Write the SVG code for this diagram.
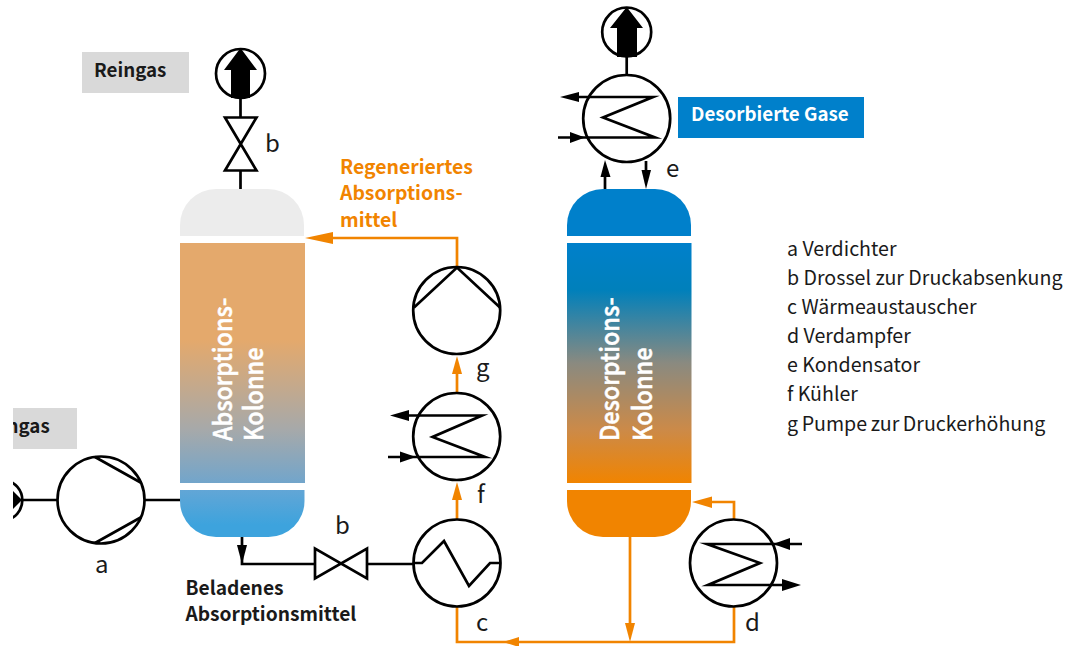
<svg xmlns="http://www.w3.org/2000/svg" width="1067" height="646" viewBox="0 0 1067 646">
<style>
text{font-family:"Noto Sans CJK SC","Noto Sans",sans-serif;fill:#1a1a1a}
.lab{font-size:24px}
.leg{font-size:19.6px}
.b{font-weight:700;font-size:18.75px}
.m{font-weight:700;font-size:19.2px}
.o{fill:#f18400}
.bk{fill:none;stroke:#000;stroke-width:2.7;stroke-miterlimit:10}
.c{fill:#fff;stroke:#000;stroke-width:2.7}
.or{fill:none;stroke:#f18400;stroke-width:2.7}
.ko{fill:#fff;stroke:#fff;stroke-width:.5;font-weight:500;font-size:26px}
.tx{fill:#f18400;font-weight:700;font-size:19.4px}
.blk{fill:#000}
</style>
<defs>
<linearGradient id="ga" x1="0" y1="243" x2="0" y2="525" gradientUnits="userSpaceOnUse"><stop offset="0" stop-color="#e4a96c"/><stop offset=".344" stop-color="#e4a96c"/><stop offset=".663" stop-color="#a6a9aa"/><stop offset=".851" stop-color="#72a5cb"/><stop offset=".876" stop-color="#62a6d6"/><stop offset="1" stop-color="#3da3dd"/></linearGradient>
<linearGradient id="gd" x1="0" y1="243" x2="0" y2="483" gradientUnits="userSpaceOnUse"><stop offset="0" stop-color="#0080cb"/><stop offset=".196" stop-color="#0080bb"/><stop offset=".5" stop-color="#8a8a80"/><stop offset=".78" stop-color="#cc8a48"/><stop offset="1" stop-color="#f18400"/></linearGradient>
<clipPath id="cl"><rect x="13" y="0" width="1054" height="646"/></clipPath>
</defs>
<rect width="1067" height="646" fill="#fff"/>
<g id="connectors">
<path class="bk" d="M22 500H58M145 500H181"/>
<path class="bk" d="M242 536V564H314M368 564H414"/>
<path class="blk" d="M237 545H247L242 564z"/>
<path class="bk" d="M240.500 98V117M240.500 171V189"/>
<path class="bk" d="M626.700 56V75"/>
<path class="bk" d="M605 189V176M646 161V171"/>
<path class="blk" d="M600.500 177H610.500L605 160z"/>
<path class="blk" d="M641.500 170H651L646 189z"/>
<path class="or" d="M457 519V495M457 393V370M457 267V238H330"/>
<path class="o" d="M333 232V244L305 238z"/>
<path class="o" d="M452 374H462L457 356z"/>
<path class="o" d="M452 500H462L457 482z"/>
<path class="or" d="M457 607V642H734V607M734 519V502H708"/>
<path class="o" d="M712 496.500V508L692 502z"/>
<path class="o" d="M519 637V647L503 642z"/>
<path class="or" d="M630 536V625"/>
<path class="o" d="M625 623H635L630 642z"/>
</g>
<g id="reingas"><rect x="82" y="52" width="107" height="41" fill="#d9d9d9"/><text class="b" x="94" y="77">Reingas</text></g>
<g id="rohgas"><rect x="13" y="408" width="64" height="41" fill="#d9d9d9"/><text class="b" x="6.500" y="433" clip-path="url(#cl)">ngas</text></g>
<g id="desorbierte"><rect x="678" y="97" width="186" height="41" fill="#0080cb"/><text class="b" x="691" y="121" style="fill:#fff">Desorbierte Gase</text></g>
<g id="absorption">
<path d="M180 236V225A36 36 0 0 1 216 189H268A36 36 0 0 1 304 225V236z" fill="#ececec"/>
<rect x="180" y="243" width="125" height="240" fill="url(#ga)"/>
<path d="M180 490H304.500V501A36 36 0 0 1 268.500 537H216A36 36 0 0 1 180 501z" fill="url(#ga)"/>
<text class="ko" transform="translate(231.500 441) rotate(-90) scale(.9 1)">Absorptions-</text>
<text class="ko" transform="translate(263 441) rotate(-90) scale(.9 1)">Kolonne</text>
</g>
<g id="desorption">
<path d="M567 236V225A36 36 0 0 1 603 189H655A36 36 0 0 1 691 225V236z" fill="#0080cb"/>
<rect x="567" y="243" width="124.500" height="240" fill="url(#gd)"/>
<path d="M567 490H691V501A36 36 0 0 1 655 537H603A36 36 0 0 1 567 501z" fill="#f18400"/>
<text class="ko" transform="translate(618.500 441) rotate(-90) scale(.9 1)">Desorptions-</text>
<text class="ko" transform="translate(651.500 441) rotate(-90) scale(.9 1)">Kolonne</text>
</g>
<g id="feed" clip-path="url(#cl)"><path class="bk" d="M5 480A20.500 20.500 0 0 1 5 520.500"/><path class="blk" d="M13 491L22 500L13 509z"/></g>
<g id="a"><circle class="c" cx="101" cy="500" r="43.500"/><path class="bk" d="M95 457L141.500 483M95 543L141.500 517"/><text class="lab" x="95" y="573">a</text></g>
<g id="exhaust1"><circle class="c" cx="240.500" cy="73.500" r="24.500"/><path class="blk" d="M240.500 48L257 70H250V98H231V70H224z"/></g>
<g id="exhaust2"><circle class="c" cx="626.700" cy="32" r="24.500"/><path class="blk" d="M626.700 7L643 28H637V57H617V28H610z"/></g>
<g id="b1"><path class="bk" d="M225 117.500H256.500L225 170.500H256.500z"/><text class="lab" x="265" y="152">b</text></g>
<g id="b2"><path class="bk" d="M315 548.500V578.500L367 548.500V578.500z"/><text class="lab" x="335" y="534">b</text></g>
<g id="c"><circle class="c" cx="457" cy="563" r="43.500"/><path class="bk" d="M414 563H422L444 541L469 586L490 563H501"/><text class="lab" x="476" y="631">c</text></g>
<g id="d"><circle class="c" cx="733.500" cy="563" r="43.500"/><path class="bk" d="M802 544H707L760 563L708 585H788"/><path class="blk" d="M790 538L773 544L790 550zM782 579L801 585L782 591z"/><text class="lab" x="745" y="631">d</text></g>
<g id="e"><circle class="c" cx="626.700" cy="118.500" r="43.500"/><path class="bk" d="M575 97H653L603 117.500L655 137.500H558"/><path class="blk" d="M560 97L579 92V102zM570 132L585 137.500L570 143z"/><text class="lab" x="666" y="177">e</text></g>
<g id="f"><circle class="c" cx="456.700" cy="436.500" r="43.500"/><path class="bk" d="M405 415.500H482L432.500 437L485 457H388"/><path class="blk" d="M390 415.500L409 410V421zM400 451.500L416 457L400 462.500z"/><text class="lab" x="477" y="503">f</text></g>
<g id="g"><circle class="c" cx="456.700" cy="310.500" r="43.500"/><path class="bk" d="M414 307.500L457 267.500L500 307.500"/><text class="lab" x="476" y="376">g</text></g>
<g id="labels">
<text class="m" x="185.500" y="595">Beladenes</text><text class="m" x="185.500" y="621">Absorptionsmittel</text>
<text class="tx" x="340" y="174">Regeneriertes</text><text class="tx" x="340" y="200">Absorptions-</text><text class="tx" x="340" y="227">mittel</text>
</g>
<g id="legend">
<text class="leg" x="787" y="256">a Verdichter</text>
<text class="leg" x="787" y="285">b Drossel zur Druckabsenkung</text>
<text class="leg" x="787" y="314">c Wärmeaustauscher</text>
<text class="leg" x="787" y="343">d Verdampfer</text>
<text class="leg" x="787" y="372">e Kondensator</text>
<text class="leg" x="787" y="401">f Kühler</text>
<text class="leg" x="787" y="431" style="word-spacing:-.8px">g Pumpe zur Druckerhöhung</text>
</g>
</svg>
